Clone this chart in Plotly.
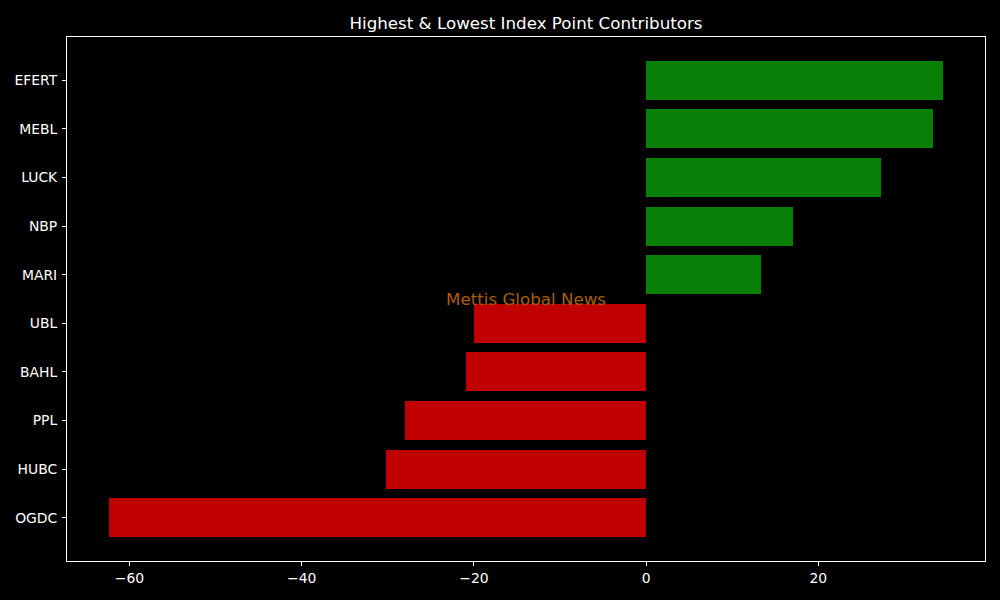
import plotly.graph_objects as go

companies = ["EFERT", "MEBL", "LUCK", "NBP", "MARI", "UBL", "BAHL", "PPL", "HUBC", "OGDC"]
points = [34.5, 33.3, 27.3, 17.0, 13.3, -20.0, -20.9, -28.0, -30.2, -62.4]
colors = ["#088008" if v > 0 else "#c00000" for v in points]

fig = go.Figure(go.Bar(
    x=points, y=companies, orientation="h",
    marker=dict(color=colors, line=dict(width=0)),
    width=0.8,
))

axis_common = dict(
    showgrid=False, zeroline=False, showline=True, linecolor="white", linewidth=1,
    mirror=True, ticks="outside", ticklen=4, tickcolor="white", tickwidth=1,
    tickfont=dict(color="white", size=13.9, family="DejaVu Sans"),
)

fig.update_layout(
    width=1000, height=600,
    paper_bgcolor="black", plot_bgcolor="black",
    margin=dict(l=67, r=15, t=37, b=39),
    title=dict(text="Highest & Lowest Index Point Contributors", xref="paper", x=0.5, xanchor="center",
               y=1 - 23 / 600, yanchor="middle",
               font=dict(color="white", size=16.7, family="DejaVu Sans")),
    xaxis=dict(range=[-67.25, 39.35], tickmode="linear", tick0=0, dtick=20, **axis_common),
    yaxis=dict(type="category", categoryorder="array", categoryarray=companies,
               range=[9.89, -0.89], ticklabelstandoff=2, **axis_common),
    showlegend=False,
    bargap=0,
)

fig.add_annotation(
    text="Mettis Global News", xref="x domain", yref="y domain", x=0.5, y=0.5,
    showarrow=False, font=dict(color="#a85f05", size=16.7, family="DejaVu Sans"),
)

fig.write_html(
    "out.html",
    config={"displayModeBar": False},
    post_script="document.body.style.margin='0';document.body.style.background='black';",
)
